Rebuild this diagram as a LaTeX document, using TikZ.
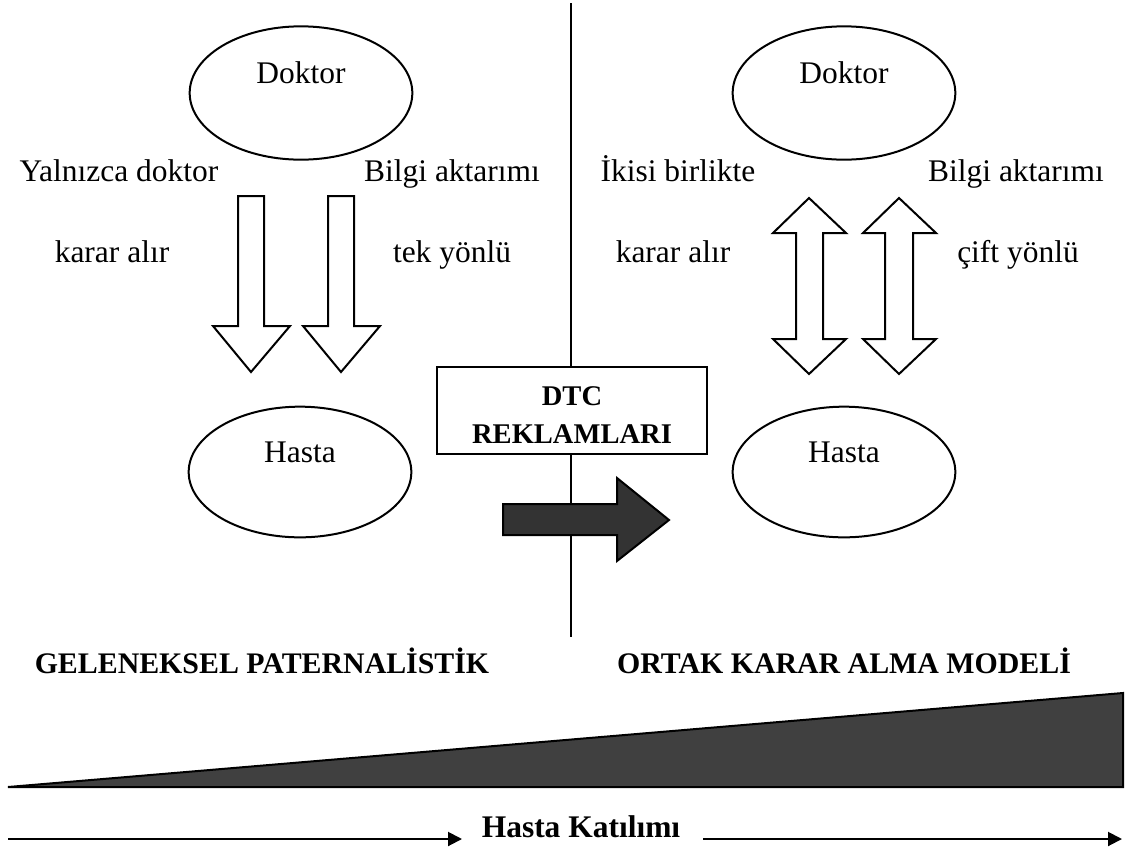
\documentclass[tikz,border=0pt]{standalone}
\usepackage{fontspec}
\setmainfont{Liberation Serif}
\usetikzlibrary{arrows.meta,shapes.geometric}
\definecolor{darkfill}{HTML}{333333}
\definecolor{wedgefill}{HTML}{404040}
\begin{document}
\begin{tikzpicture}[x=0.75pt,y=-0.75pt,line width=1.5pt,
  txt/.style={font=\fontsize{23.6}{28}\selectfont,anchor=base,inner sep=0pt},
  ttl/.style={font=\fontsize{22.4}{27}\selectfont\bfseries,anchor=base,inner sep=0pt},
  boxtxt/.style={font=\fontsize{21.4}{26}\selectfont\bfseries,anchor=base,inner sep=0pt},
  oval/.style={draw,ellipse,inner sep=0pt,minimum width=167pt,minimum height=100pt},
  blockarrow/.style={draw,fill=white,line join=miter},
  darkarrow/.style={draw,fill=darkfill,line join=miter}]
\useasboundingbox (0,0) rectangle (1129,851);

% dividing line between the two models
\coordinate (vtop) at (571,3);
\coordinate (vbot) at (571,637);
\draw (vtop) -- (vbot);

% ---- traditional paternalistic model ----
\node[oval] (dokL) at (301,93) {};
\node[txt] (dokLt) at (301,83) {Doktor};
\node[oval,minimum height=98pt] (hasL) at (300,472) {};
\node[txt] (hasLt) at (300,462) {Hasta};

\node[txt] (l1) at (119,181) {Yalnızca doktor};
\node[txt] (l2) at (112,262) {karar alır};
\node[txt] (l3) at (452,181) {Bilgi aktarımı};
\node[txt] (l4) at (452,262) {tek yönlü};

\draw[blockarrow] (238,196) -- (264,196) -- (264,326) -- (290,326) -- (251,372)
  -- (213,326) -- (238,326) -- cycle;
\draw[blockarrow] (328,196) -- (354,196) -- (354,326) -- (380,326) -- (341,372)
  -- (303,326) -- (328,326) -- cycle;

% ---- shared decision making model ----
\node[oval] (dokR) at (844,93) {};
\node[txt] (dokRt) at (844,83) {Doktor};
\node[oval,minimum height=98pt] (hasR) at (844,472) {};
\node[txt] (hasRt) at (844,462) {Hasta};

\node[txt] (r1) at (678,181) {İkisi birlikte};
\node[txt] (r2) at (673,262) {karar alır};
\node[txt] (r3) at (1016,181) {Bilgi aktarımı};
\node[txt] (r4) at (1018,262) {çift yönlü};

\draw[blockarrow] (809,198) -- (846,233) -- (823,233) -- (823,339) -- (846,339)
  -- (809,374) -- (773,339) -- (796,339) -- (796,233) -- (773,233) -- cycle;
\draw[blockarrow] (899,198) -- (936,233) -- (913,233) -- (913,339) -- (936,339)
  -- (899,374) -- (863,339) -- (885,339) -- (885,233) -- (863,233) -- cycle;

% ---- DTC advertising box and transition arrow ----
\node[draw,fill=white,minimum width=202.5pt,minimum height=65pt,inner sep=0pt]
  (dtc) at (572,410.5) {};
\node[boxtxt] (dtc1) at (572,405) {DTC};
\node[boxtxt] (dtc2) at (572,443) {REKLAMLARI};
\draw[darkarrow] (503,504) -- (617,504) -- (617,478) -- (669,520) -- (617,561)
  -- (617,535) -- (503,535) -- cycle;

% ---- model titles ----
\node[ttl] (tL) at (262,673) {GELENEKSEL PATERNALİSTİK};
\node[ttl] (tR) at (844,673) {ORTAK KARAR ALMA MODELİ};

% ---- growing patient participation ----
\draw[fill=wedgefill,line join=miter] (8,787) -- (1123,693) -- (1123,787) -- cycle;

\node[ttl,font=\fontsize{23.6}{28}\selectfont\bfseries] (hk) at (581,837) {Hasta Katılımı};
\coordinate (aL0) at (8,839);
\coordinate (aL1) at (462,839);
\coordinate (aR0) at (703,839);
\coordinate (aR1) at (1122,839);
\draw[-{Triangle[length=10.5pt,width=10.5pt]}] (aL0) -- (aL1);
\draw[-{Triangle[length=10.5pt,width=10.5pt]}] (aR0) -- (aR1);
\end{tikzpicture}
\end{document}
